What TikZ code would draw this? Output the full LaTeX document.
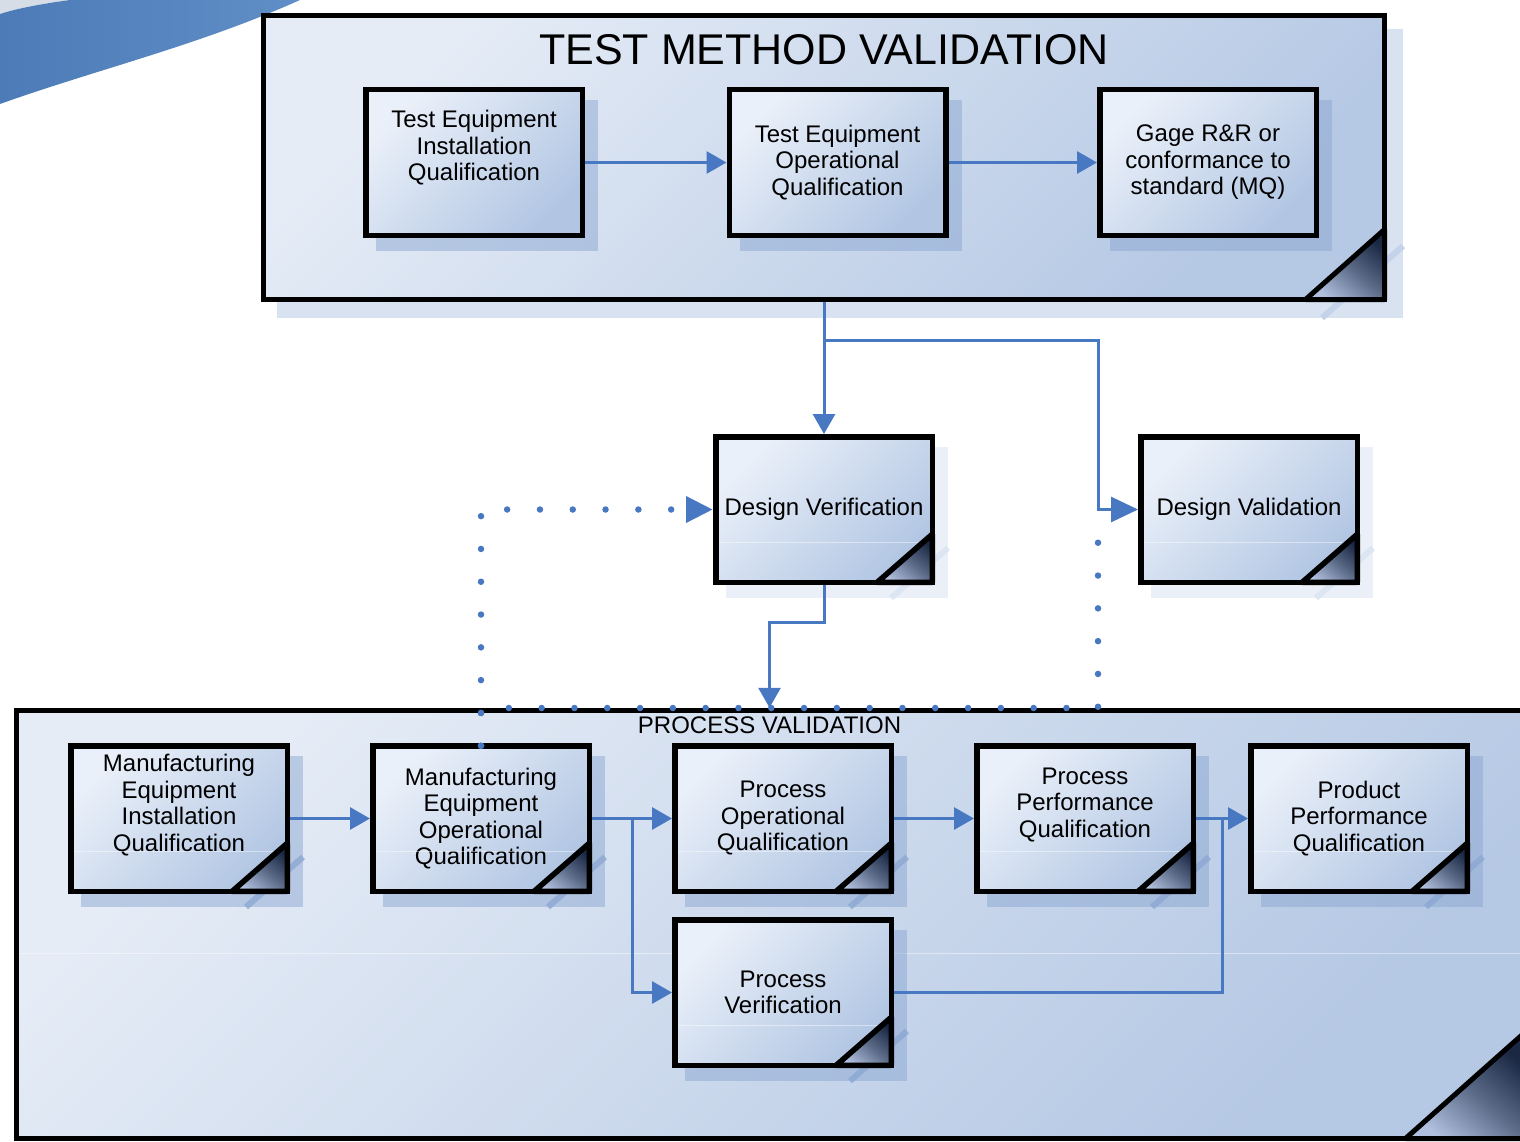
\documentclass[tikz,border=0pt]{standalone}
\usepackage{fontspec}
\setmainfont{Liberation Sans}
\usetikzlibrary{arrows.meta,calc}
\definecolor{boxlight}{RGB}{234,240,249}
\definecolor{boxdark}{RGB}{178,198,227}
\definecolor{contlight}{RGB}{229,236,246}
\definecolor{contdark}{RGB}{181,200,228}
\definecolor{arrowc}{RGB}{72,120,194}
\definecolor{folddark}{RGB}{26,40,68}
\definecolor{foldlight}{RGB}{176,192,222}
\definecolor{shadowout}{RGB}{216,226,241}
\definecolor{stripeout}{RGB}{196,211,234}
\definecolor{shadowin}{RGB}{140,168,210}
\definecolor{swoosh}{RGB}{76,123,183}
\definecolor{swooshlight}{RGB}{96,142,198}
\definecolor{pale}{RGB}{214,221,231}
\begin{document}
\begin{tikzpicture}[x=1pt,y=-1pt,
  fbox/.style={rectangle, draw=black, line width=5.5pt, minimum width=216.5pt,
    minimum height=145.5pt, outer sep=0pt, inner sep=0pt,
    top color=boxlight, bottom color=boxdark, shading angle=45,
    align=center, font=\fontsize{24}{26.5}\selectfont},
  cont/.style={rectangle, draw=black, line width=5pt, outer sep=0pt, inner sep=0pt,
    top color=contlight, bottom color=contdark, shading angle=45},
  btext/.style={align=center, font=\fontsize{24}{26.5}\selectfont, inner sep=0pt},
  titletext/.style={font=\fontsize{43}{48}\selectfont, inner sep=0pt},
  pvtext/.style={font=\fontsize{24}{28}\selectfont, inner sep=0pt},
  foldshade/.style={top color=folddark, bottom color=foldlight, middle color=folddark!55!foldlight, shading angle=-40},
  foldline/.style={draw=black, line width=5.5pt, line join=round},
  gloss/.style={draw=white, opacity=0.45, line width=1pt},
  conn/.style={draw=arrowc, line width=3pt, line join=miter, shorten >=2.75pt,
    -{Triangle[length=20pt,width=22pt]}},
  fromnode/.style={shorten <=2.75pt},
  bigtip/.style={-{Triangle[length=27pt,width=25pt]}},
  connline/.style={draw=arrowc, line width=3pt, line join=miter},
  dotline/.style={draw=arrowc, line width=6.5pt, line cap=round, dash pattern=on 0pt off 32.8pt},
  dotconn/.style={dotline, shorten >=2.75pt}
]
\useasboundingbox (0,0) rectangle (1520,1142);
\clip (0,0) rectangle (1520,1142);

% swoosh
\fill[pale] (0,0) -- (70,0) .. controls (40,4) and (15,9) .. (0,14) -- cycle;
\shade[left color=swoosh, right color=swooshlight] (0,14) .. controls (15,9) and (40,4) .. (70,0)
  -- (300,0) .. controls (200,45) and (95,70) .. (0,104) -- cycle;

% TEST METHOD VALIDATION container
\fill[shadowout] (277,29) rectangle (1403,318);
\draw[stripeout, line width=6pt] (1322,318) -- (1403,246);
\node[cont, minimum width=1121pt, minimum height=284pt] (tmv) at (824,157.5) {};
\shade[foldshade] ($(tmv.south east)+(-79,0)$) -- ($(tmv.south east)+(0,-70)$) -- (tmv.south east) -- cycle;
\draw[foldline, line width=5pt] ($(tmv.south east)+(-79,0)$) -- ($(tmv.south east)+(0,-70)$) -- (tmv.south east) -- cycle;
\node[titletext] (tmvtitle) at (824,50) {TEST METHOD VALIDATION};

% PROCESS VALIDATION container
\node[cont, minimum width=1506pt, minimum height=428pt] (pvc) at (769.5,924.5) {};
\draw[gloss] (19,953) -- (1520,953);
\shade[foldshade] ($(pvc.south east)+(-117,0)$) -- ($(pvc.south east)+(0,-104)$) -- (pvc.south east) -- cycle;
\draw[foldline, line width=5pt] ($(pvc.south east)+(-117,0)$) -- ($(pvc.south east)+(0,-104)$) -- (pvc.south east) -- cycle;
\node[pvtext] (pvtitle) at (769.5,725) {PROCESS VALIDATION};

% shadows of the boxes
\foreach \cx/\cy/\fd/\sc in {474/162.5/0/shadowin, 837.5/162.5/0/shadowin, 1208/162.5/0/shadowin,
    824/509.5/1/shadowout, 1249/509.5/1/shadowout,
    179/818.5/1/shadowin, 481/818.5/1/shadowin, 783/818.5/1/shadowin, 1085/818.5/1/shadowin,
    1359/818.5/1/shadowin, 783/992.5/1/shadowin}{
  \fill[\sc, opacity=0.5] (\cx-111+13,\cy-75.5+13) rectangle (\cx+111+13,\cy+75.5+13);
  \ifnum\fd=1
    \draw[\sc, opacity=0.8, line width=6pt] (\cx+111-57+13,\cy+75.5+13) -- (\cx+111+13,\cy+75.5-50+13);
  \fi
}

% boxes
\node[fbox, label={[btext, yshift=14.5pt]center:{Test Equipment\\Installation\\Qualification}}] (teiq) at (474,162.5) {};
\node[fbox] (teoq) at (837.5,162.5) {Test Equipment\\Operational\\Qualification};
\node[fbox] (gage) at (1208,162.5) {Gage R\&R or\\conformance to\\standard (MQ)};
\node[fbox] (dv) at (824,509.5) {Design Verification};
\node[fbox] (dval) at (1249,509.5) {Design Validation};
\node[fbox, label={[btext, yshift=13.5pt]center:{Manufacturing\\Equipment\\Installation\\Qualification}}] (meiq) at (179,818.5) {};
\node[fbox] (meoq) at (481,818.5) {Manufacturing\\Equipment\\Operational\\Qualification};
\node[fbox] (poq) at (783,818.5) {Process\\Operational\\Qualification};
\node[fbox, label={[btext, yshift=13.5pt]center:{Process\\Performance\\Qualification}}] (ppq) at (1085,818.5) {};
\node[fbox] (prpq) at (1359,818.5) {Product\\Performance\\Qualification};
\node[fbox] (pv) at (783,992.5) {Process\\Verification};

% gloss and folded corners
\foreach \n in {dv,dval,meiq,meoq,poq,ppq,prpq,pv}{
  \draw[gloss] ($(\n.west)+(3,33)$) -- ($(\n.east)+(-3,33)$);
  \shade[foldshade] ($(\n.south east)+(-55,0)$) -- ($(\n.south east)+(0,-48)$) -- (\n.south east) -- cycle;
  \draw[foldline] ($(\n.south east)+(-55,0)$) -- ($(\n.south east)+(0,-48)$) -- (\n.south east) -- cycle;
}

% connectors
\draw[conn, fromnode] (teiq.east) -- (teoq.west);
\draw[conn, fromnode] (teoq.east) -- (gage.west);
\draw[conn, fromnode] (tmv.south) -- (dv.north);
\coordinate (j1) at (824,340);
\coordinate (j2) at (1098,340);
\draw[conn, bigtip] (j1) -- (j2) |- (dval.west);
\coordinate (k1) at (824,622);
\draw[conn, fromnode] (dv.south) -- (k1) -| (pvc.north);

\draw[conn, fromnode] (meiq.east) -- (meoq.west);
\draw[conn, fromnode] (meoq.east) -- (poq.west);
\coordinate (b1) at (632,818.5);
\draw[conn] (b1) |- (pv.west);
\draw[conn, fromnode] (poq.east) -- (ppq.west);
\draw[conn, fromnode] (ppq.east) -- (prpq.west);
\coordinate (b2) at (1222,818.5);
\draw[connline, fromnode] (pv.east) -| (b2);

% dotted connectors
\coordinate (d1) at (481,708);
\coordinate (d2) at (1098,708);
\coordinate (d3) at (1098,540);
\draw[dotconn, bigtip] (meoq.north) |- (dv.west);
\draw[dotline] (meoq.north) -- (d1) -- (d2) -- (d3);
\end{tikzpicture}
\end{document}
